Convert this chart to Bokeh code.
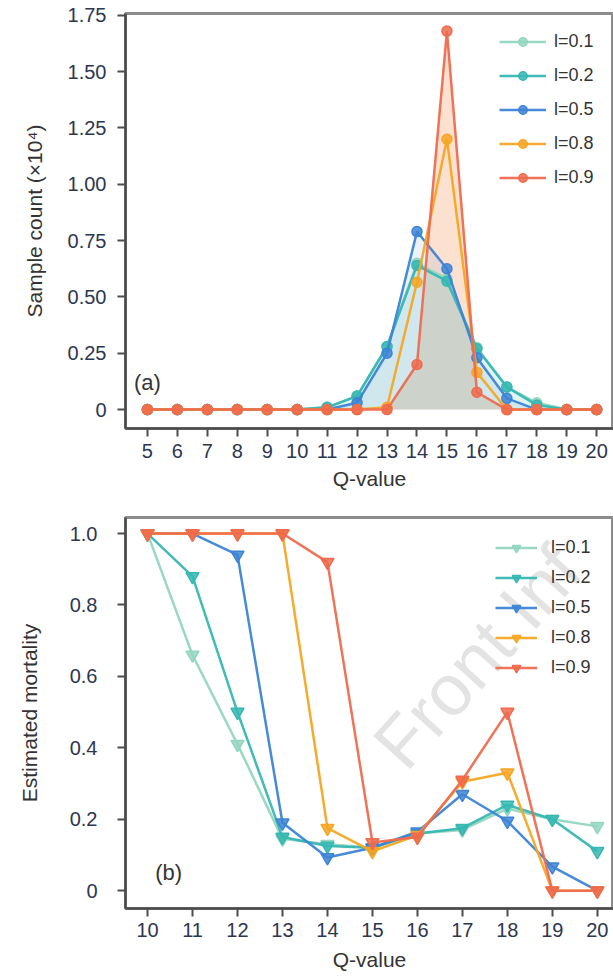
from bokeh.plotting import figure
from bokeh.models import FixedTicker, Legend, LegendItem, Label, Range1d
from bokeh.layouts import column
from bokeh.embed import file_html
from bokeh.resources import INLINE

# ---------------- data ----------------
series_labels = ["l=0.1", "l=0.2", "l=0.5", "l=0.8", "l=0.9"]
series_colors = ["#93d6bf", "#36b7b3", "#3d84d5", "#f5a623", "#ef6a4e"]

q_a = list(range(5, 21))
cnt_01 = [0, 0, 0, 0, 0, 0, 0.01, 0.06, 0.28, 0.65, 0.58, 0.275, 0.10, 0.03, 0, 0]
cnt_02 = [0, 0, 0, 0, 0, 0, 0.01, 0.06, 0.28, 0.64, 0.57, 0.27, 0.10, 0.02, 0, 0]
cnt_05 = [0, 0, 0, 0, 0, 0, 0, 0.03, 0.25, 0.79, 0.625, 0.23, 0.05, 0, 0, 0]
cnt_08 = [0, 0, 0, 0, 0, 0, 0, 0, 0.01, 0.565, 1.20, 0.165, 0, 0, 0, 0]
cnt_09 = [0, 0, 0, 0, 0, 0, 0, 0, 0, 0.20, 1.68, 0.077, 0, 0, 0, 0]

q_b = list(range(10, 21))
mort_01 = [1.0, 0.66, 0.41, 0.145, 0.13, 0.12, 0.16, 0.17, 0.23, 0.20, 0.18]
mort_02 = [1.0, 0.88, 0.50, 0.15, 0.125, 0.12, 0.16, 0.175, 0.24, 0.20, 0.11]
mort_05 = [1.0, 1.0, 0.94, 0.19, 0.093, 0.12, 0.165, 0.27, 0.195, 0.067, 0.0]
mort_08 = [1.0, 1.0, 1.0, 1.0, 0.175, 0.11, 0.155, 0.305, 0.33, 0.0, 0.0]
mort_09 = [1.0, 1.0, 1.0, 1.0, 0.92, 0.135, 0.15, 0.31, 0.50, 0.0, 0.0]

xticks_a = list(range(5, 21))
yticks_a = [0, 0.25, 0.5, 0.75, 1.0, 1.25, 1.5, 1.75]
ylabels_a = ["0", "0.25", "0.50", "0.75", "1.00", "1.25", "1.50", "1.75"]
xticks_b = list(range(10, 21))
yticks_b = [0, 0.2, 0.4, 0.6, 0.8, 1.0]
ylabels_b = ["0", "0.2", "0.4", "0.6", "0.8", "1.0"]

FONT = "Liberation Sans"
TICK_COLOR = "#2d3650"
LABEL_COLOR = "#333333"


def style(p, s_tick_x, s_tick_y, s_lab_x, s_lab_y):
    p.outline_line_color = "#8c8c8c"
    p.outline_line_width = 3
    p.xgrid.visible = False
    p.ygrid.visible = False
    for ax in (p.xaxis[0], p.yaxis[0]):
        ax.axis_line_color = "#4d4d4d"
        ax.axis_line_width = 2.5
        ax.major_tick_line_color = "#4d4d4d"
        ax.major_tick_line_width = 2
        ax.major_tick_out = 8
        ax.major_tick_in = 0
        ax.minor_tick_line_color = None
        ax.major_label_text_font = FONT
        ax.major_label_text_font_size = "20px"
        ax.major_label_text_color = TICK_COLOR
        ax.axis_label_text_font = FONT
        ax.axis_label_text_font_size = "21px"
        ax.axis_label_text_font_style = "normal"
        ax.axis_label_text_color = LABEL_COLOR
    p.xaxis[0].major_label_standoff = s_tick_x
    p.yaxis[0].major_label_standoff = s_tick_y
    p.xaxis[0].axis_label_standoff = s_lab_x
    p.yaxis[0].axis_label_standoff = s_lab_y


# ---------------- panel (a) ----------------
pa = figure(width=613, height=497, output_backend="svg", toolbar_location=None,
            x_range=Range1d(4.27, 20.56), y_range=Range1d(-0.084, 1.758),
            min_border_left=119, min_border_right=0, min_border_top=13,
            min_border_bottom=69)
style(pa, 7, 11, 6, 19)
pa.xaxis[0].ticker = FixedTicker(ticks=xticks_a)
pa.yaxis[0].ticker = FixedTicker(ticks=yticks_a)
pa.yaxis[0].major_label_overrides = {t: l for t, l in zip(yticks_a, ylabels_a)}
pa.xaxis[0].axis_label = "Q-value"
pa.yaxis[0].axis_label = "Sample count (\u00d710\u2074)"

counts = [cnt_01, cnt_02, cnt_05, cnt_08, cnt_09]
zeros_a = [0] * len(q_a)
# peach fill under l=0.9 first, then translucent blue-green fills on top
pa.varea(x=q_a, y1=zeros_a, y2=cnt_09, fill_color="#f59a62", fill_alpha=0.3)
for vals, col in zip([cnt_01, cnt_02, cnt_05], series_colors[:3]):
    pa.varea(x=q_a, y1=zeros_a, y2=vals, fill_color=col, fill_alpha=0.1)

items_a = []
for vals, col, lab in zip(counts, series_colors, series_labels):
    ln = pa.line(q_a, vals, line_color=col, line_width=2.5, line_alpha=0.95)
    mk = pa.scatter(q_a, vals, marker="circle", size=10, fill_color=col,
                    fill_alpha=0.85, line_color=col, line_width=1.5)
    items_a.append(LegendItem(label=lab, renderers=[ln, mk]))

leg_a = Legend(items=items_a, location=(374, 240), padding=0, margin=0,
               glyph_width=47, glyph_height=21, label_height=21, spacing=13,
               label_standoff=8, border_line_color=None, background_fill_alpha=0,
               label_text_font=FONT, label_text_font_size="18px",
               label_text_color="#333333")
pa.add_layout(leg_a)
pa.add_layout(Label(x=5, y=0.12, text="(a)", text_align="center",
                    text_baseline="middle", text_font=FONT,
                    text_font_size="22px", text_color="#333333"))

# ---------------- panel (b) ----------------
pb = figure(width=613, height=480, output_backend="svg", toolbar_location=None,
            x_range=Range1d(9.51, 20.36), y_range=Range1d(-0.05, 1.045),
            min_border_left=125, min_border_right=0, min_border_top=20,
            min_border_bottom=69)
style(pb, 6, 20, 8, 26)
pb.xaxis[0].ticker = FixedTicker(ticks=xticks_b)
pb.yaxis[0].ticker = FixedTicker(ticks=yticks_b)
pb.yaxis[0].major_label_overrides = {t: l for t, l in zip(yticks_b, ylabels_b)}
pb.xaxis[0].axis_label = "Q-value"
pb.yaxis[0].axis_label = "Estimated mortality"

pb.add_layout(Label(x=16.0, y=0.30, text="Front Inf", angle=48, angle_units="deg",
                    text_font=FONT, text_font_size="72px", text_color="#dcdcdc",
                    text_alpha=0.8, level="underlay"))

morts = [mort_01, mort_02, mort_05, mort_08, mort_09]
items_b = []
for vals, col, lab in zip(morts, series_colors, series_labels):
    ln = pb.line(q_b, vals, line_color=col, line_width=2.5, line_alpha=0.95)
    mk = pb.scatter(q_b, vals, marker="inverted_triangle", size=13, fill_color=col,
                    fill_alpha=0.85, line_color=col, line_width=1.5)
    items_b.append(LegendItem(label=lab, renderers=[ln, mk]))

leg_b = Legend(items=items_b, location=(370, 230), padding=0, margin=0,
               glyph_width=42, glyph_height=21, label_height=21, spacing=9,
               label_standoff=14, border_line_color=None, background_fill_alpha=0,
               label_text_font=FONT, label_text_font_size="18px",
               label_text_color="#333333")
pb.add_layout(leg_b)
pb.add_layout(Label(x=10.47, y=0.05, text="(b)", text_align="center",
                    text_baseline="middle", text_font=FONT,
                    text_font_size="22px", text_color="#333333"))

layout = column(pa, pb)
open("out.html", "w").write(file_html(layout, INLINE))
